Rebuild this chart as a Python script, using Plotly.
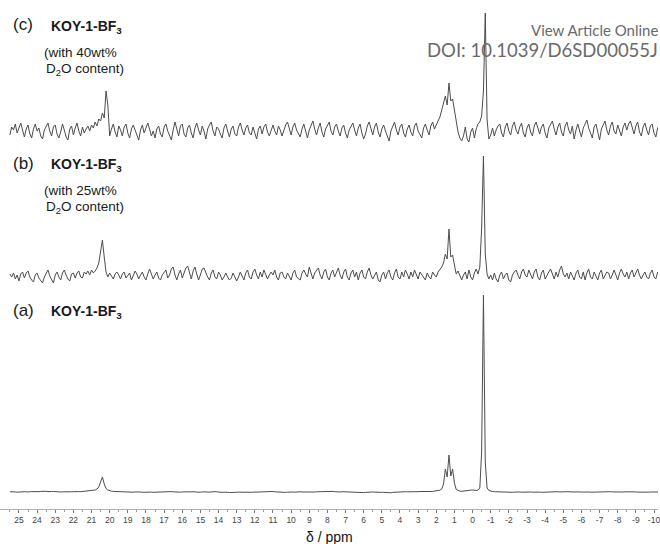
import numpy as np
import plotly.graph_objects as go

# chemical-shift sampling grid (ppm), 0.1 ppm steps from 25.5 down to -10.4
ppm = np.round(25.5 - 0.1 * np.arange(360), 1)

# intensities (arbitrary units), one row = 1 ppm (10 samples)
spec_a = [
    0.2, 0.4, 0.3, 0.1, -0.2, 0.0, 0.3, 0.5, 0.3, 0.1,
    -0.1, 0.2, 0.4, 0.2, 0.0, 0.1, 0.3, 0.6, 0.8, 0.5,
    0.7, 0.4, 0.2, 0.5, 0.6, 0.3, 0.1, -0.2, 0.0, 0.2,
    0.1, -0.1, -0.3, -0.1, 0.2, 0.3, 0.1, 0.2, 0.4, 0.3,
    0.5, 0.6, 0.7, 0.9, 1.0, 1.2, 1.5, 2.0, 3.0, 5.0,
    10, 15, 8, 3.5, 2.0, 1.2, 0.8, 0.6, 0.5, 0.3,
    0.4, 0.6, 0.3, 0.1, 0.2, 0.4, 0.2, 0.0, -0.2, 0.1,
    0.3, 0.2, 0.0, -0.3, -0.2, 0.1, 0.3, 0.2, -0.1, -0.3,
    -0.2, 0.0, 0.2, 0.1, 0.3, 0.5, 0.8, 0.9, 0.6, 0.4,
    0.2, 0.0, -0.2, -0.4, -0.2, 0.1, 0.2, 0.0, -0.3, -0.1,
    0.1, 0.3, 0.2, -0.1, -0.3, -0.2, 0.1, 0.3, 0.2, 0.0,
    -0.2, 0.1, 0.3, 0.4, 0.2, -0.1, -0.3, -0.4, -0.2, 0.0,
    -0.3, -0.5, -0.6, -0.4, -0.5, -0.3, -0.1, -0.4, -0.6, -0.3,
    -0.2, 0.0, -0.1, -0.3, -0.2, 0.0, 0.2, 0.1, -0.1, 0.1,
    0.2, 0.4, 0.3, 0.1, 0.3, 0.5, 0.2, 0.0, -0.2, -0.1,
    0.0, -0.3, -0.4, -0.2, 0.1, 0.2, 0.0, -0.2, 0.1, 0.3,
    0.2, 0.0, -0.1, 0.2, 0.4, 0.3, 0.1, -0.1, 0.0, 0.2,
    0.3, 0.1, -0.1, 0.0, 0.2, 0.4, 0.3, 0.5, 0.6, 0.3,
    0.1, -0.1, 0.0, 0.3, 0.2, 0.0, -0.2, -0.1, 0.1, 0.0,
    -0.3, -0.5, -0.8, -1.0, -0.8, -0.6, -0.4, -0.5, -0.3, -0.1,
    0.0, -0.2, -0.3, -0.5, -0.6, -0.4, -0.3, -0.5, -0.8, -1.0,
    -0.8, -0.4, -0.2, 0.0, 0.1, 0.0, -0.1, 0.1, 0.3, 0.2,
    0.1, 0.3, 0.4, 0.2, 0.1, 0.3, 0.5, 0.4, 0.2, 0.3,
    0.4, 0.3, 0.5, 0.6, 0.8, 1.0, 1.3, 1.8, 3.0, 8.0,
    23, 15, 37, 16, 23, 9, 2.5, 1.3, 0.9, 0.7,
    0.8, 0.9, 1.0, 1.3, 1.8, 2.1, 1.6, 1.5, 2.0, 4.0,
    40, 197, 30, 4.0, 1.5, 0.8, 0.5, 0.3, 0.2, 0.1,
    0.0, -0.2, -0.1, 0.1, 0.2, 0.0, -0.2, -0.3, -0.1, 0.1,
    0.2, 0.0, -0.2, -0.1, 0.1, 0.3, 0.2, 0.0, -0.2, 0.0,
    0.1, 0.2, -0.1, -0.3, -0.2, 0.0, 0.2, 0.1, -0.1, 0.0,
    0.2, 0.4, 0.3, 0.1, -0.1, 0.0, 0.2, 0.3, 0.1, -0.1,
    -0.2, 0.0, 0.1, 0.3, 0.2, 0.0, -0.1, 0.1, 0.2, 0.0,
    -0.2, -0.1, 0.1, 0.0, -0.2, 0.0, 0.2, 0.1, 0.3, 0.2,
    0.4, 0.3, 0.1, 0.0, 0.2, 0.3, 0.1, -0.1, 0.0, 0.2,
    0.3, 0.1, -0.1, 0.0, 0.2, 0.1, -0.1, -0.2, 0.0, 0.1,
    0.2, 0.0, -0.2, 0.0, 0.1, 0.3, 0.2, 0.0, 0.1, 0.0,
]

spec_b = [
    2, -1, 3, -3, 1, -5, 2, 4, -2, 3,
    5, -1, -4, -6, 1, 3, -2, -5, -7, -1,
    3, 6, 0, -3, -7, 1, 4, -1, -4, 3,
    6, 1, -3, -5, 2, 3, -2, 3, 5, -1,
    -2, 4, 2, 5, 1, 6, 3, 5, 8, 13,
    24, 36, 19, 4, -1, 3, 0, -3, 2, 4,
    1, -3, 2, 4, -2, 1, 3, -4, 1, 5,
    2, -3, 1, 4, -1, -4, 2, 7, 2, -3,
    1, 4, -2, -4, 1, 3, 6, -2, 1, 7,
    9, 1, -4, 2, 6, -2, 4, 8, 10, 2,
    -3, 5, 9, 2, -4, 1, 7, 8, 3, -1,
    -4, 3, 6, -1, -3, 4, 1, -4, -1, 3,
    -1, -4, -2, 3, -1, -5, -1, 4, 0, -4,
    3, 6, -1, -3, 4, 7, 1, -3, 4, -1,
    6, 2, -3, 1, 4, 1, 6, -1, -4, 3,
    4, -1, -3, 3, -1, -4, 3, 6, -1, -3,
    -4, 3, 6, 2, -1, 9, 3, -3, 3, 6,
    8, 1, -3, 4, 7, -1, -4, 3, 6, -1,
    4, 8, 1, -3, 4, 7, -1, -4, 3, 6,
    -1, 4, -4, 3, 6, -1, -3, 4, 8, 1,
    -3, 1, 4, -4, -6, 1, 4, -3, 3, 6,
    -1, -4, 3, 7, -1, -3, 4, -1, 6, 2,
    -3, 4, -1, 6, 2, -3, 4, 1, -1, -4,
    3, -1, -3, 4, 1, -1, 4, 6, 9, 13,
    22, 17, 47, 19, 21, 11, 2, 5, 1, -4,
    1, 4, -3, 6, -1, -4, 3, 7, 2, 9,
    48, 120, 22, 2, -3, 1, -4, 3, -3, -6,
    1, 4, -3, 1, 3, -4, -6, 1, 4, 6,
    1, -3, 4, 7, 1, -1, 6, 2, -3, 4,
    7, -1, -4, 3, 6, -3, 1, 4, 7, 1,
    -3, 4, -1, 6, 10, 2, -1, 3, -3, 4,
    -1, -4, 3, 6, -1, -3, 4, -4, 3, 7,
    -1, -3, 4, -1, -4, 3, 6, -3, 1, 4,
    3, -3, 1, 6, 1, -4, 3, 7, 2, -1,
    4, -3, 3, 6, -1, 4, 7, 1, -3, 1,
    4, -1, -3, 3, 6, -1, -3, 4, -1, -3,
]

spec_c = [
    -3, 5, 2, 8, -1, 4, 9, 2, -5, 3,
    7, -2, -6, 3, 8, 1, 4, -4, -7, 2,
    6, 9, 1, -4, 5, 7, -2, -6, 0, 8,
    2, -5, -8, 3, 6, -3, 4, 9, 1, -4,
    5, -1, 3, 6, 1, 7, 4, 10, 6, 13,
    11, 19, 14, 41, 27, -4, 3, 8, 0, -5,
    6, 2, -4, 5, 8, -1, -6, 3, 7, 1,
    -3, -8, 2, 7, -1, 4, 9, 3, -4, 1,
    -6, 3, 6, -2, -5, 5, 8, 1, -3, -8,
    2, 10, 3, -4, 6, 8, -2, -5, 4, 7,
    -1, -6, 4, 9, 2, -3, 6, 1, -7, 3,
    7, 10, 1, -4, 5, 3, -2, -6, 4, 8,
    1, -5, 3, 6, -2, -4, 5, 9, 2, -3,
    4, 7, -1, -3, 5, -2, -7, 3, 6, -2,
    5, 8, 0, -4, 3, 7, 1, -3, 6, 2,
    -4, 2, 7, 10, 3, -3, 5, 9, 2, -2,
    -5, 3, 8, 1, -6, 2, 7, 11, 3, -3,
    4, 9, 0, -5, 3, 6, 10, 1, -3, 5,
    8, 1, -4, 4, 7, -1, -6, 2, 5, 9,
    2, -4, 4, 8, -1, -7, -2, 6, 10, 2,
    -3, 5, 9, 0, -5, 3, 7, 1, -4, -9,
    1, 6, 10, 2, -3, 5, 8, -1, -5, 3,
    7, 0, -4, 6, 9, 1, -2, -6, 4, 8,
    2, -3, 6, 10, 3, 7, 12, 15, 22, 29,
    36, 27, 49, 31, 33, 22, 10, 0, -6, -9,
    -4, 5, -7, -10, 0, 4, -6, 3, 8, 10,
    16, 41, 119, 12, -7, -3, 4, -4, 2, 6,
    8, -1, -5, 5, 9, 1, -3, 6, 10, 2,
    -2, 5, 9, -1, -5, 4, 8, 0, -4, 6,
    10, 3, -2, 5, 8, -1, -6, 4, 7, 11,
    3, -3, 5, 9, 0, -4, 6, 10, 2, -2,
    6, -7, 2, 8, 1, -5, 4, 9, 12, 4,
    -1, -6, 5, 8, 0, -8, 3, 7, 11, 2,
    -3, 6, 10, 1, -2, 7, 0, -4, 5, 9,
    2, 8, 11, 3, -2, 6, 10, 0, -4, 5,
    9, 2, -3, 6, 8, -1, -5, 4, 7, 1,
]

tick_vals = list(range(25, -11, -1))
tick_text = [str(v) for v in tick_vals]

assert len(spec_a) == len(spec_b) == len(spec_c) == len(ppm)

# layout constants (pixel based)
W, H = 660, 544
PLOT_H = 509
OFF_A, OFF_B, OFF_C = 17, 233, 377
LINE_COLOR = "#4d4d4d"

fig = go.Figure()
for spec, off in ((spec_a, OFF_A), (spec_b, OFF_B), (spec_c, OFF_C)):
    fig.add_trace(go.Scatter(
        x=ppm, y=np.array(spec, dtype=float) + off, mode="lines",
        line=dict(color=LINE_COLOR, width=1), hoverinfo="skip",
        showlegend=False))

def px(x):
    return x / W

def py(y):
    return (PLOT_H - y) / PLOT_H

ann = []
def add(text, x, y, size, anchor="left", color="#1a1a1a", family="Arial, Liberation Sans, sans-serif"):
    ann.append(dict(text=text, x=px(x), y=py(y), xref="paper", yref="paper",
                    xanchor=anchor, yanchor="middle", showarrow=False,
                    font=dict(size=size, color=color, family=family)))

for lab, y0, extra in (("(c)", 25, "40"), ("(b)", 163, "25"), ("(a)", 310, None)):
    add(lab, 11, y0, 17)
    add("<b>KOY-1-BF<sub>3</sub></b>", 49, y0 + 2, 14)
    if extra:
        add("(with %swt%%" % extra, 81, y0 + 28, 13.5, anchor="center")
        add("D<sub>2</sub>O content)", 85, y0 + 44, 13.5, anchor="center")

add("δ / ppm", 330, 537, 14, anchor="center", color="#111")
add("View Article Online", 662, 30, 15, anchor="right", color="#6a6a6a", family="Lato, Open Sans, sans-serif")
add("DOI: 10.1039/D6SD00055J", 662, 50, 18.5, anchor="right", color="#6a6a6a", family="Lato, Open Sans, sans-serif")

x0 = 474 / 18.2
x1 = (474 - 660) / 18.2

fig.update_layout(
    width=W, height=H,
    margin=dict(l=0, r=0, t=0, b=H - PLOT_H),
    paper_bgcolor="white", plot_bgcolor="white",
    annotations=ann,
    xaxis=dict(range=[x0, x1], tickmode="array", tickvals=tick_vals,
               ticktext=tick_text, ticks="outside", ticklen=3, tickwidth=1,
               tickcolor="#777", showline=True, linecolor="#b0b0b0", linewidth=1,
               showgrid=False, zeroline=False, ticklabeloverflow="allow",
               tickfont=dict(size=8.5, color="#444", family="Liberation Sans, Arial, sans-serif"),
               minor=dict(tickmode="array", tickvals=[v + 0.5 for v in range(-11, 26)],
                          ticks="outside", ticklen=2, tickcolor="#999", showgrid=False)),
    yaxis=dict(range=[0, PLOT_H], visible=False, fixedrange=True),
)

fig.write_html("out.html", config={"displayModeBar": False})
